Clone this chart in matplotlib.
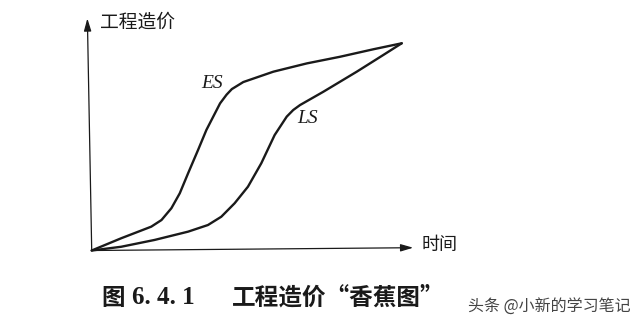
import matplotlib
matplotlib.use("Agg")
import matplotlib.pyplot as plt

plt.rcParams["font.family"] = ["Noto Sans CJK SC", "DejaVu Sans"]

# cumulative cost (%) against time (%)
es_time = [0, 9.5, 19.2, 22.5, 25.7, 28.4, 31.1, 34.3, 37.0, 41.4, 43.5, 45.2,
           48.9, 58.6, 69.4, 80.1, 90.8, 100]
es_cost = [0, 5.9, 11.5, 14.7, 20.4, 27.6, 37.3, 48.5, 58.2, 71.0, 75.2, 77.9,
           81.3, 86.3, 90.3, 93.5, 97.1, 100]
ls_time = [0, 9.5, 20.3, 31.1, 37.5, 41.8, 46.1, 50.4, 54.7, 59.0, 62.9, 65.0,
           67.2, 74.7, 85.5, 94.1, 100]
ls_cost = [0, 1.8, 5.1, 9.1, 12.3, 16.3, 22.8, 30.8, 42.1, 55.7, 64.6, 67.8,
           70.2, 76.6, 86.3, 94.4, 100]

curve_labels = ["ES", "LS"]
label_pos = [(38.7, 80.8), (69.5, 63.8)]

y_title = "工程造价"
x_title = "时间"
caption_parts = ["图", "6. 4. 1", "工程造价“香蕉图”"]
watermark = "头条 @小新的学习笔记"

INK = "#1a1a1a"

fig = plt.figure(figsize=(6.4, 3.26), dpi=100)
ax = fig.add_axes([0.1433, 0.2316, 0.4844, 0.6356])
ax.set_xlim(0, 100)
ax.set_ylim(0, 100)
ax.axis("off")

ax.plot(es_time, es_cost, color=INK, lw=1.7, solid_joinstyle="round",
        solid_capstyle="round", clip_on=False)
ax.plot(ls_time, ls_cost, color=INK, lw=1.7, solid_joinstyle="round",
        solid_capstyle="round", clip_on=False)

arrow = dict(arrowstyle="-|>,head_length=0.75,head_width=0.22", lw=0.9,
             color=INK, shrinkA=0, shrinkB=0)
ax.annotate("", xy=(-1.4, 112), xytext=(0, 0), arrowprops=arrow,
            annotation_clip=False)
ax.annotate("", xy=(103.7, 1.35), xytext=(0, 0), arrowprops=arrow,
            annotation_clip=False)

for name, (lx, ly) in zip(curve_labels, label_pos):
    ax.text(lx, ly, name, family="Liberation Serif", style="italic",
            fontsize=14, ha="center", va="center", color=INK)

ax.text(2.7, 110.4, y_title, fontsize=13.5, ha="left", va="center",
        color=INK, clip_on=False)
ax.text(106.5, 2.65, x_title, fontsize=13, ha="left", va="center",
        color=INK, clip_on=False)

# caption: figure number in bold serif, title in bold CJK
cap_y = 0.086
fig.text(0.159, cap_y, caption_parts[0], fontweight="bold", fontsize=17,
         ha="left", va="center", color=INK)
fig.text(0.206, cap_y, caption_parts[1], family="Liberation Serif",
         fontweight="bold", fontsize=18, ha="left", va="center", color=INK)
fig.text(0.362, cap_y, caption_parts[2], fontweight="bold", fontsize=17,
         ha="left", va="center", color=INK)

fig.text(0.7315, 0.0567, watermark, fontsize=11.5, ha="left", va="center",
         color="#444444")

fig.savefig("out.png", dpi=100, facecolor="white")
